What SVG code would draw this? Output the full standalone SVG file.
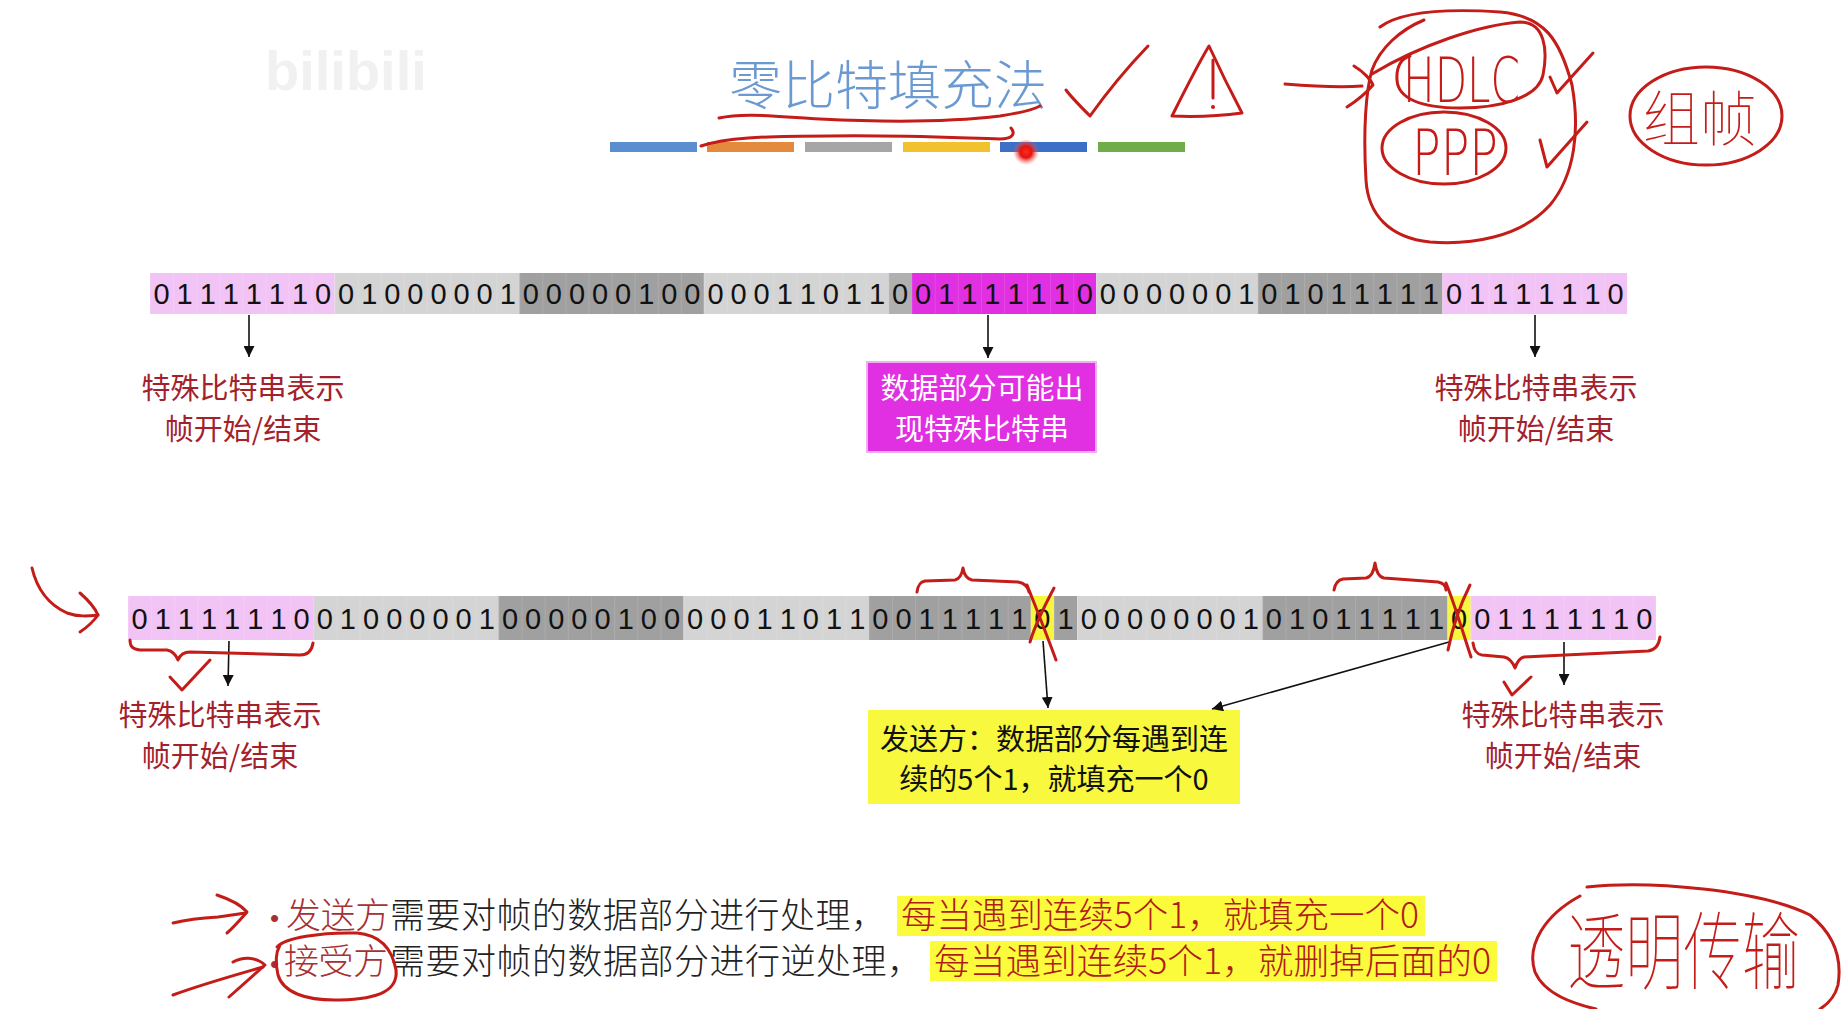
<svg xmlns="http://www.w3.org/2000/svg" width="1844" height="1009" viewBox="0 0 1844 1009">
<style>
.cjk{font-family:"Noto Sans CJK SC","Noto Sans CJK JP",sans-serif}
.bits{font-family:"Liberation Sans",Arial,sans-serif;font-size:29px;fill:#111;text-anchor:middle}
.lbl{font-family:"Noto Sans CJK SC",sans-serif;font-size:29px;fill:#a3212b;text-anchor:middle}
.ink{fill:none;stroke:#c41c18;stroke-width:3;stroke-linecap:round;stroke-linejoin:round}
.inktxt{fill:#c41c18}
.arr{stroke:#111;stroke-width:1.6;fill:none}
.pink{fill:#f2c4f6}.lg{fill:#d4d4d4}.dg{fill:#a0a0a0}.mg{fill:#e12fe2}.yl{fill:#f6f63e}
</style>
<defs>
<marker id="ah" viewBox="0 0 10 10" refX="10" refY="5" markerWidth="11" markerHeight="11" markerUnits="userSpaceOnUse" orient="auto"><path d="M0,0 L10,5 L0,10 z" fill="#111"/></marker>
<pattern id="sep1" x="150" y="0" width="23.08" height="1009" patternUnits="userSpaceOnUse"><rect x="0" y="0" width="1" height="1009" fill="#fff" fill-opacity="0.12"/></pattern>
<pattern id="sep2" x="128" y="0" width="23.15" height="1009" patternUnits="userSpaceOnUse"><rect x="0" y="0" width="1" height="1009" fill="#fff" fill-opacity="0.12"/></pattern>
<radialGradient id="dot"><stop offset="0" stop-color="#ff2a1a"/><stop offset="0.45" stop-color="#e01410"/><stop offset="1" stop-color="#ff6060" stop-opacity="0"/></radialGradient>
</defs>
<rect width="1844" height="1009" fill="#fff"/>

<!-- watermark -->
<text x="265" y="90" font-family="Liberation Sans,sans-serif" font-weight="bold" font-size="56" fill="#f1f1f1">bilibili</text>

<!-- title -->
<g id="title">
<text class="cjk" x="888" y="105" font-size="53" font-weight="300" fill="#6b9ad2" text-anchor="middle">零比特填充法</text>
<rect x="610" y="142" width="87" height="10" fill="#5b8ed0"/>
<rect x="707" y="142" width="87" height="10" fill="#e48a3c"/>
<rect x="805" y="142" width="87" height="10" fill="#a6a6a6"/>
<rect x="903" y="142" width="87" height="10" fill="#f2c12e"/>
<rect x="1000" y="142" width="87" height="10" fill="#3d6fc6"/>
<rect x="1098" y="142" width="87" height="10" fill="#6fac4a"/>
</g>

<!-- row 1 -->
<g id="row1">
<rect class="pink" x="150" y="273" width="184.6" height="41"/>
<rect class="lg" x="334.6" y="273" width="184.7" height="41"/>
<rect class="dg" x="519.3" y="273" width="184.6" height="41"/>
<rect class="lg" x="703.9" y="273" width="184.7" height="41"/>
<rect fill="#b0b0b0" x="888.6" y="273" width="23" height="41"/>
<rect class="mg" x="911.6" y="273" width="184.7" height="41"/>
<rect class="lg" x="1096.3" y="273" width="161.5" height="41"/>
<rect class="dg" x="1257.8" y="273" width="184.7" height="41"/>
<rect class="pink" x="1442.5" y="273" width="184.6" height="41"/>
<rect x="150" y="273" width="1477" height="41" fill="url(#sep1)"/>
<text class="bits" y="304" x="161.54 184.62 207.70 230.78 253.86 276.94 300.02 323.10 346.18 369.26 392.34 415.42 438.50 461.58 484.66 507.74 530.82 553.90 576.98 600.06 623.14 646.22 669.30 692.38 715.46 738.54 761.62 784.70 807.78 830.86 853.94 877.02 900.10 923.18 946.26 969.34 992.42 1015.50 1038.58 1061.66 1084.74 1107.82 1130.90 1153.98 1177.06 1200.14 1223.22 1246.30 1269.38 1292.46 1315.54 1338.62 1361.70 1384.78 1407.86 1430.94 1454.02 1477.10 1500.18 1523.26 1546.34 1569.42 1592.50 1615.58">0111111001000001000001000001101100111111000000010101111101111110</text>
</g>

<g id="label-r1-left">
<text class="lbl" x="243" y="399">特殊比特串表示</text>
<text class="lbl" x="243" y="440">帧开始/结束</text>
</g>
<g id="label-r1-mid">
<rect x="867" y="362" width="229" height="90" fill="#e12fe2" stroke="#f2aef2" stroke-width="2"/>
<text class="lbl" x="982" y="399" style="fill:#fff">数据部分可能出</text>
<text class="lbl" x="982" y="440" style="fill:#fff">现特殊比特串</text>
</g>
<g id="label-r1-right">
<text class="lbl" x="1536" y="399">特殊比特串表示</text>
<text class="lbl" x="1536" y="440">帧开始/结束</text>
</g>

<!-- row 2 -->
<g id="row2">
<rect class="pink" x="128" y="596" width="185.2" height="44"/>
<rect class="lg" x="313.2" y="596" width="185.2" height="44"/>
<rect class="dg" x="498.4" y="596" width="185.2" height="44"/>
<rect class="lg" x="683.6" y="596" width="185.2" height="44"/>
<rect class="dg" x="868.8" y="596" width="162.05" height="44"/>
<rect class="yl" x="1030.85" y="596" width="23.15" height="44"/>
<rect class="dg" x="1054" y="596" width="23.15" height="44"/>
<rect class="lg" x="1077.15" y="596" width="185.2" height="44"/>
<rect class="dg" x="1262.35" y="596" width="185.2" height="44"/>
<rect class="yl" x="1447.55" y="596" width="23.15" height="44"/>
<rect class="pink" x="1470.7" y="596" width="185.2" height="44"/>
<rect x="128" y="596" width="1528" height="44" fill="url(#sep2)"/>
<text class="bits" y="628.5" x="139.58 162.73 185.88 209.03 232.18 255.33 278.48 301.63 324.78 347.93 371.08 394.23 417.38 440.53 463.68 486.83 509.98 533.13 556.28 579.43 602.58 625.73 648.88 672.03 695.18 718.33 741.48 764.63 787.78 810.93 834.08 857.23 880.38 903.53 926.68 949.83 972.98 996.13 1019.28 1042.43 1065.58 1088.73 1111.88 1135.03 1158.18 1181.33 1204.48 1227.63 1250.78 1273.93 1297.08 1320.23 1343.38 1366.53 1389.68 1412.83 1435.98 1459.13 1482.28 1505.43 1528.58 1551.73 1574.88 1598.03 1621.18 1644.33">011111100100000100000100000110110011111010000000101011111001111110</text>
</g>

<g id="label-r2-left">
<text class="lbl" x="220" y="726">特殊比特串表示</text>
<text class="lbl" x="220" y="767">帧开始/结束</text>
</g>
<g id="label-r2-mid">
<rect x="868" y="710" width="372" height="94" fill="#f8f83e"/>
<text class="lbl" x="1054" y="750" style="fill:#111">发送方：数据部分每遇到连</text>
<text class="lbl" x="1054" y="790" style="fill:#111">续的5个1，就填充一个0</text>
</g>
<g id="label-r2-right">
<text class="lbl" x="1563" y="726">特殊比特串表示</text>
<text class="lbl" x="1563" y="767">帧开始/结束</text>
</g>

<!-- connectors -->
<g id="connectors">
<line class="arr" x1="249" y1="315" x2="249" y2="357" marker-end="url(#ah)"/>
<line class="arr" x1="988" y1="315" x2="988" y2="358" marker-end="url(#ah)"/>
<line class="arr" x1="1535" y1="315" x2="1535" y2="357" marker-end="url(#ah)"/>
<line class="arr" x1="229" y1="641" x2="228" y2="686" marker-end="url(#ah)"/>
<line class="arr" x1="1043" y1="641" x2="1048" y2="708" marker-end="url(#ah)"/>
<line class="arr" x1="1449" y1="642" x2="1212" y2="709" marker-end="url(#ah)"/>
<line class="arr" x1="1564" y1="642" x2="1564" y2="685" marker-end="url(#ah)"/>
</g>

<!-- bottom bullets -->
<g id="bullets" class="cjk" font-size="35" font-weight="300">
<rect x="897" y="896" width="528" height="40" fill="#fbfb3c"/>
<rect x="930" y="941" width="567" height="40" fill="#fbfb3c"/>
<text x="270" y="927" fill="#a83030" font-family="Liberation Sans,sans-serif" font-size="26">•</text>
<text x="286" y="928" fill="#a83030" textLength="104">发送方</text>
<text x="390" y="928" fill="#222" textLength="496">需要对帧的数据部分进行处理，</text>
<text x="901" y="928" fill="#b01c1a" textLength="518" lengthAdjust="spacingAndGlyphs">每当遇到连续5个1，就填充一个0</text>
<text x="270" y="973" fill="#a83030" font-family="Liberation Sans,sans-serif" font-size="26">•</text>
<text x="284" y="974" fill="#a83030" textLength="104">接受方</text>
<text x="390" y="974" fill="#222" textLength="532">需要对帧的数据部分进行逆处理，</text>
<text x="934" y="974" fill="#b01c1a" textLength="557" lengthAdjust="spacingAndGlyphs">每当遇到连续5个1，就删掉后面的0</text>
</g>

<!-- handwritten annotations -->
<g id="annotations">
<path class="ink" d="M719,118 C745,112 780,117 820,119 C880,122 950,122 1000,116 C1020,113 1032,110 1040,106"/>
<path class="ink" d="M701,146 C725,138 760,136 830,136 C900,135 960,138 1000,139 C1012,139 1016,134 1011,128"/>
<circle cx="1026" cy="152" r="13" fill="url(#dot)"/>
<path class="ink" d="M1066,90 C1072,98 1080,106 1090,116 C1105,95 1125,70 1148,46"/>
<path class="ink" d="M1172,116 C1185,90 1198,64 1209,46 C1220,70 1232,94 1242,113 C1220,116 1195,117 1172,116 Z"/>
<path class="ink" d="M1213,60 L1213,98"/>
<circle cx="1213" cy="107" r="2" fill="#c41c18"/>
<path class="ink" d="M1285,84 C1310,86 1335,88 1362,86"/>
<path class="ink" d="M1354,66 C1364,72 1371,80 1373,85 C1367,92 1358,100 1347,107"/>
<path class="ink" d="M1372,74 C1420,45 1480,25 1520,22 C1545,22 1548,50 1543,75 C1538,98 1500,108 1460,108 C1420,108 1398,98 1397,80 C1396,66 1402,58 1410,56"/>
<text class="inktxt" x="1403" y="102" font-family="DejaVu Sans,sans-serif" font-weight="200" font-size="62" textLength="117" lengthAdjust="spacingAndGlyphs">HDLC</text>
<ellipse class="ink" cx="1444" cy="148" rx="62" ry="36"/>
<text class="inktxt" x="1412" y="175" font-family="DejaVu Sans,sans-serif" font-weight="200" font-size="64" textLength="86" lengthAdjust="spacingAndGlyphs">PPP</text>
<path class="ink" d="M1380,27 C1400,12 1440,8 1500,12 C1545,16 1560,40 1572,85 C1580,130 1575,175 1550,205 C1520,238 1470,245 1430,242 C1390,238 1368,215 1366,180 C1363,130 1366,90 1372,70 C1380,48 1400,30 1424,20"/>
<path class="ink" d="M1550,77 L1557,93 L1593,53"/>
<path class="ink" d="M1540,140 L1547,167 L1587,122"/>
<ellipse class="ink" cx="1706" cy="116" rx="76" ry="49"/>
<text class="inktxt cjk" x="1643" y="141" font-size="60" font-weight="100" textLength="114" lengthAdjust="spacingAndGlyphs">组帧</text>

<path class="ink" d="M32,568 C36,585 45,603 67,613 C78,617 88,616 98,615"/>
<path class="ink" d="M80,593 C88,600 95,608 98,615 C93,622 86,628 80,632"/>
<path class="ink" d="M130,640 C130,646 132,649 140,650 L167,650 C172,651 176,655 178,660 C180,655 183,652 190,652 L300,655 C308,655 312,650 313,643"/>
<path class="ink" d="M170,677 L182,690 L210,660"/>
<path class="ink" d="M917,592 C918,585 920,582 925,581 L955,580 C960,579 962,574 963,568 C964,574 966,579 972,580 L1018,582 C1024,583 1028,587 1029,592"/>
<path class="ink" d="M1027,585 C1035,605 1045,630 1056,660 M1054,588 C1045,605 1035,625 1030,642"/>
<path class="ink" d="M1334,590 C1335,584 1337,580 1343,579 L1366,578 C1372,577 1374,570 1375,563 C1376,570 1378,577 1384,578 L1438,582 C1443,583 1446,586 1446,590"/>
<path class="ink" d="M1446,583 C1455,605 1462,630 1471,657 M1470,585 C1460,605 1452,630 1448,650"/>
<path class="ink" d="M1473,643 C1474,650 1476,654 1482,655 L1504,657 C1509,658 1513,663 1515,668 C1517,662 1519,658 1524,657 L1648,651 C1655,650 1659,645 1660,637"/>
<path class="ink" d="M1504,682 L1512,695 L1531,677"/>

<path class="ink" d="M173,923 C185,920 200,918 218,917 C228,916 238,914 246,913"/>
<path class="ink" d="M217,895 C232,900 242,906 247,912 C240,920 234,927 227,933"/>
<path class="ink" d="M173,995 C200,985 235,975 263,967"/>
<path class="ink" d="M233,962 C242,957 255,956 265,965 L229,997"/>
<path class="ink" d="M277,947 C285,938 320,932 357,933 C380,935 392,948 396,970 C398,990 380,999 340,1000 C305,1001 283,992 278,975 C275,962 276,952 280,945"/>

<path class="ink" d="M1580,896 C1545,915 1526,945 1535,972 C1545,995 1575,1004 1596,1009"/>
<path class="ink" d="M1587,887 C1650,880 1760,890 1810,915 C1835,935 1842,960 1838,985 C1835,997 1828,1004 1820,1009"/>
<text class="inktxt cjk" transform="translate(1567,983) scale(1,1.38)" x="0" y="0" font-size="62" font-weight="100" textLength="233" lengthAdjust="spacingAndGlyphs">透明传输</text>
</g>
</svg>
